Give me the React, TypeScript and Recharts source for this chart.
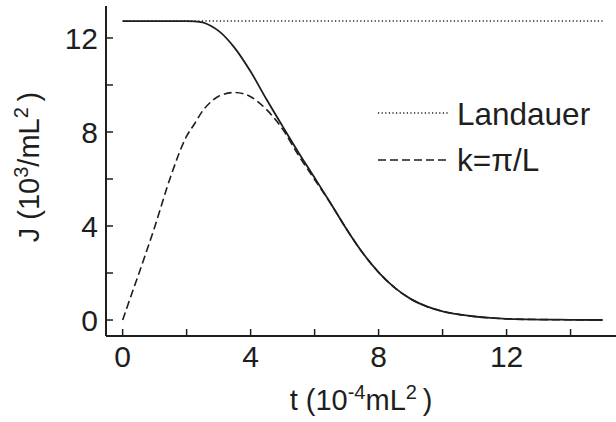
import React from "react";
import { LineChart, Line, XAxis, YAxis, Legend, Label } from "recharts";

// time in 10^-4 mL^2
const tValues = [
  0, 0.25, 0.5, 1, 1.5, 2, 2.25, 2.5, 2.75, 3, 3.5, 4, 4.5, 5, 5.5, 6, 6.5, 7,
  7.5, 8, 8.5, 9, 9.5, 10, 10.5, 11, 11.5, 12, 13, 14, 15,
];
// full (solid) current
const exactJ = [
  12.72, 12.72, 12.72, 12.72, 12.72, 12.72, 12.71, 12.66, 12.52, 12.3, 11.58,
  10.57, 9.38, 8.24, 7.12, 6.05, 4.97, 3.86, 2.86, 2.03, 1.38, 0.9, 0.58, 0.37,
  0.24, 0.15, 0.09, 0.05, 0.02, 0.01, 0.0,
];
// k = pi/L (dashed)
const lowestModeJ = [
  0, 0.98, 1.95, 3.95, 6.1, 7.82, 8.35, 8.9, 9.27, 9.52, 9.68, 9.5, 8.95, 8.12,
  7.0, 5.98, 4.96, 3.86, 2.86, 2.03, 1.38, 0.9, 0.58, 0.37, 0.24, 0.15, 0.09,
  0.05, 0.02, 0.01, 0.0,
];
// Landauer limit (dotted)
const landauerJ = tValues.map(() => 12.72);

const xTicks = [0, 2, 4, 6, 8, 10, 12, 14];
const yTicks = [0, 2, 4, 6, 8, 10, 12];
const labeledTicks = [0, 4, 8, 12];

const legendItems = [
  { name: "Landauer", dash: "1.2 2.4" },
  { name: "k=\u03c0/L", dash: "8 4" },
];

const data = tValues.map((t, i) => ({
  t,
  exact: exactJ[i],
  lowest: lowestModeJ[i],
  landauer: landauerJ[i],
}));

const FONT = "'Liberation Sans', Arial, Helvetica, sans-serif";
const INK = "#1e1e1e";

const tickFmt = (v: number) => (labeledTicks.includes(v) ? String(v) : "");

function LegendBox() {
  return (
    <svg width={246} height={100} style={{ display: "block" }}>
      {legendItems.map((item, i) => (
        <g key={item.name}>
          <line
            x1={8}
            x2={80}
            y1={23 + i * 47}
            y2={23 + i * 47}
            stroke={INK}
            strokeWidth={1.5}
            strokeDasharray={item.dash}
          />
          <text
            x={87}
            y={35 + i * 46}
            fontSize={31.5}
            fontFamily={FONT}
            fill={INK}
          >
            {item.name}
          </text>
        </g>
      ))}
    </svg>
  );
}

function XTitle(props: any) {
  const vb = props.viewBox;
  return (
    <text
      x={vb.x + vb.width / 2}
      y={vb.y + 74}
      textAnchor="middle"
      fontSize={29}
      fontFamily={FONT}
      fill={INK}
    >
      t (10
      <tspan dy={-11} fontSize={20}>
        -4
      </tspan>
      <tspan dy={11}>mL</tspan>
      <tspan dy={-11} fontSize={20}>
        2
      </tspan>
      <tspan dy={11}>{"\u2009)"}</tspan>
    </text>
  );
}

function YTitle() {
  return (
    <text
      transform="translate(39,167) rotate(-90)"
      textAnchor="middle"
      fontSize={29}
      fontFamily={FONT}
      fill={INK}
    >
      J (10
      <tspan dy={-11} fontSize={20}>
        3
      </tspan>
      <tspan dy={11}>/mL</tspan>
      <tspan dy={-11} fontSize={20}>
        2
      </tspan>
      <tspan dy={11}>{"\u2009)"}</tspan>
    </text>
  );
}

export default function App() {
  return (
    <div style={{ position: "absolute", left: 0, top: 0, background: "#fff" }}>
      <LineChart
        width={616}
        height={422}
        data={data}
        margin={{ top: 6, right: 0, bottom: 0, left: 0 }}
      >
        <XAxis
          dataKey="t"
          type="number"
          domain={[-0.52, 15.42]}
          ticks={xTicks}
          tickFormatter={tickFmt}
          allowDataOverflow
          height={86}
          tickSize={-7}
          tickMargin={17}
          axisLine={{ stroke: INK, strokeWidth: 2 }}
          tickLine={{ stroke: INK, strokeWidth: 1.5 }}
          tick={{ fill: INK, fontSize: 30, fontFamily: FONT }}
        >
          <Label content={<XTitle />} />
        </XAxis>
        <XAxis
          xAxisId="top"
          orientation="top"
          dataKey="t"
          type="number"
          domain={[-0.52, 15.42]}
          height={0}
          tick={false}
          tickLine={false}
          axisLine={{ stroke: INK, strokeWidth: 2 }}
        />
        <YAxis
          type="number"
          domain={[-0.68, 13.36]}
          ticks={yTicks}
          tickFormatter={tickFmt}
          allowDataOverflow
          width={106}
          tickSize={-7}
          tickMargin={15}
          axisLine={{ stroke: INK, strokeWidth: 2 }}
          tickLine={{ stroke: INK, strokeWidth: 1.5 }}
          tick={{ fill: INK, fontSize: 30, fontFamily: FONT }}
        >
          <Label content={<YTitle />} />
        </YAxis>
        <Legend
          layout="vertical"
          align="center"
          verticalAlign="middle"
          content={() => <LegendBox />}
          wrapperStyle={{ position: "absolute", left: 370, top: 90, width: 246 }}
        />
        <Line
          dataKey="landauer"
          name="Landauer"
          type="linear"
          stroke={INK}
          strokeWidth={1.5}
          strokeDasharray="1.2 2.4"
          dot={false}
          isAnimationActive={false}
        />
        <Line
          dataKey="lowest"
          name={"k=\u03c0/L"}
          type="monotone"
          stroke={INK}
          strokeWidth={1.6}
          strokeDasharray="8 4"
          dot={false}
          isAnimationActive={false}
        />
        <Line
          dataKey="exact"
          name="exact"
          type="monotone"
          stroke={INK}
          strokeWidth={1.8}
          dot={false}
          isAnimationActive={false}
        />
      </LineChart>
    </div>
  );
}
